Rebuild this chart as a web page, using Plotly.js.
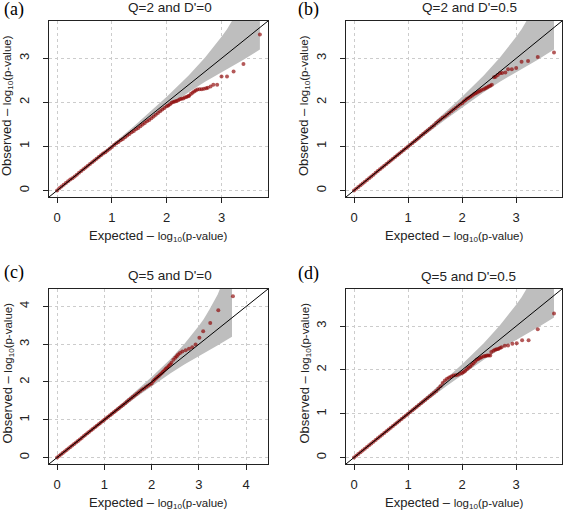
<!DOCTYPE html>
<html>
<head>
<meta charset="utf-8">
<script src="https://cdn.plot.ly/plotly-3.0.1.min.js"></script>
<style>html,body{margin:0;padding:0;background:#fff;}#chart{width:567px;height:514px;}</style>
</head>
<body>
<div id="chart"></div>
<script>
// ---- data ----
const panelTitles = ["Q=2 and D'=0", "Q=2 and D'=0.5", "Q=5 and D'=0", "Q=5 and D'=0.5"];
const panelLabels = ["(a)", "(b)", "(c)", "(d)"];

// dense part of the expected -log10(p) values (shared by all panels)
const denseX = [0.00,0.04,0.08,0.12,0.16,0.20,0.24,0.28,0.32,0.36,0.40,0.44,0.48,0.52,0.56,0.60,0.64,0.68,0.72,0.76,0.80,0.84,0.88,0.92,0.96,1.00,1.04,1.08,1.12,1.16,1.20,1.24,1.28,1.32,1.36,1.40,1.44,1.48,1.52,1.56,1.60,1.64,1.68,1.72,1.76,1.80,1.84,1.88,1.92,1.96,2.00];

const denseY_a = [0.00,0.05,0.09,0.13,0.17,0.21,0.25,0.28,0.32,0.36,0.40,0.44,0.48,0.52,0.56,0.60,0.64,0.68,0.72,0.76,0.80,0.84,0.87,0.91,0.95,0.99,1.03,1.07,1.10,1.14,1.17,1.21,1.25,1.28,1.32,1.35,1.39,1.42,1.46,1.50,1.53,1.57,1.60,1.64,1.68,1.72,1.76,1.80,1.84,1.87,1.91];
const tailX_a = [2.03,2.06,2.09,2.12,2.15,2.18,2.21,2.24,2.27,2.30,2.33,2.36,2.39,2.41,2.44,2.47,2.50,2.53,2.56,2.60,2.64,2.68,2.72,2.75,2.80,2.85,2.92,3.00,3.10,3.22,3.40,3.70];
const tailY_a = [1.93,1.96,1.99,2.01,2.02,2.03,2.05,2.07,2.08,2.09,2.11,2.12,2.14,2.15,2.19,2.22,2.25,2.27,2.29,2.30,2.30,2.31,2.32,2.33,2.36,2.40,2.40,2.59,2.59,2.70,2.87,3.54];

const denseY_b = [0.00,0.04,0.08,0.12,0.16,0.20,0.24,0.28,0.32,0.36,0.40,0.44,0.48,0.52,0.56,0.60,0.64,0.68,0.72,0.76,0.80,0.84,0.88,0.92,0.96,1.00,1.04,1.08,1.12,1.16,1.20,1.24,1.28,1.32,1.36,1.40,1.44,1.48,1.53,1.57,1.61,1.65,1.68,1.72,1.76,1.80,1.84,1.87,1.91,1.95,1.98];
const tailX_b = [2.03,2.06,2.09,2.12,2.15,2.18,2.21,2.24,2.27,2.30,2.33,2.36,2.40,2.43,2.46,2.49,2.52,2.55,2.59,2.62,2.66,2.70,2.74,2.80,2.85,2.92,3.00,3.10,3.22,3.40,3.70];
const tailY_b = [2.02,2.05,2.08,2.10,2.13,2.15,2.18,2.20,2.22,2.24,2.26,2.28,2.30,2.32,2.34,2.36,2.38,2.40,2.57,2.58,2.62,2.66,2.67,2.68,2.75,2.75,2.78,2.92,2.94,3.03,3.13];

const denseY_c = [0.00,0.04,0.08,0.12,0.16,0.20,0.24,0.28,0.32,0.36,0.40,0.44,0.48,0.52,0.56,0.60,0.64,0.68,0.72,0.76,0.80,0.84,0.88,0.92,0.96,1.00,1.04,1.08,1.12,1.16,1.20,1.24,1.28,1.32,1.36,1.40,1.44,1.48,1.52,1.56,1.60,1.64,1.68,1.72,1.76,1.80,1.83,1.87,1.90,1.93,1.96];
const tailX_c = [2.03,2.06,2.09,2.12,2.15,2.18,2.21,2.24,2.27,2.30,2.33,2.36,2.39,2.42,2.46,2.50,2.53,2.56,2.60,2.65,2.72,2.79,2.86,2.93,3.01,3.09,3.24,3.41,3.72];
const tailY_c = [2.02,2.06,2.09,2.13,2.16,2.20,2.23,2.27,2.31,2.35,2.38,2.42,2.46,2.51,2.59,2.64,2.68,2.73,2.77,2.81,2.84,2.88,2.92,2.99,3.17,3.34,3.56,3.90,4.27];

const denseY_d = [0.00,0.04,0.08,0.12,0.16,0.20,0.24,0.28,0.32,0.36,0.40,0.44,0.48,0.52,0.56,0.60,0.64,0.68,0.72,0.76,0.80,0.84,0.88,0.92,0.96,1.00,1.04,1.08,1.12,1.16,1.20,1.24,1.28,1.32,1.36,1.40,1.44,1.48,1.52,1.57,1.63,1.70,1.76,1.80,1.83,1.85,1.87,1.88,1.89,1.91,1.93];
const tailX_d = [2.03,2.06,2.09,2.12,2.15,2.18,2.21,2.24,2.27,2.30,2.33,2.36,2.40,2.43,2.46,2.49,2.52,2.54,2.58,2.61,2.64,2.67,2.70,2.73,2.79,2.85,2.93,3.01,3.11,3.23,3.40,3.70];
const tailY_d = [1.95,1.98,2.02,2.05,2.08,2.12,2.15,2.19,2.23,2.25,2.27,2.29,2.31,2.32,2.33,2.33,2.33,2.41,2.44,2.46,2.47,2.48,2.50,2.52,2.55,2.56,2.60,2.61,2.68,2.68,2.93,3.29];

// 95% confidence band (expected, lower, upper)
const bandX  = [0.00,0.30,0.70,1.00,1.40,1.70,2.00,2.40,2.70,3.00,3.10,3.22,3.40,3.70];
const bandLo = [0.00,0.289,0.676,0.965,1.34,1.62,1.89,2.23,2.47,2.69,2.76,2.84,2.97,3.20];
const bandHi = [0.01,0.313,0.724,1.038,1.46,1.79,2.13,2.61,3.02,3.49,3.66,3.91,4.32,5.30];

const diagEnds = [-1, 6];
const axisMax = [3.7, 3.7, 4.29, 3.7];
const tickVals = [[0,1,2,3],[0,1,2,3],[0,1,2,3,4],[0,1,2,3]];

// ---- build ----
const W = 567, H = 514;
const boxes = [ // left, right, top, bottom (px)
  [49, 268, 21, 197],
  [346, 562, 21, 197],
  [49, 268, 289, 464],
  [346, 562, 289, 464]
];
const denseYs = [denseY_a, denseY_b, denseY_c, denseY_d];
const tailXs = [tailX_a, tailX_b, tailX_c, tailX_d];
const tailYs = [tailY_a, tailY_b, tailY_c, tailY_d];

const traces = [];
const layout = {
  width: W, height: H,
  margin: {l:0, r:0, t:0, b:0},
  paper_bgcolor: '#fff', plot_bgcolor: '#fff',
  showlegend: false,
  font: {family: 'Liberation Sans, Arial, sans-serif', size: 13, color: '#222'},
  annotations: []
};
const titlePos = [[170, 8], [469, 8], [170, 275], [468, 276]];
const labelPos = [[2, 9], [296, 9], [2, 272], [296, 273]];
const ytitleX = [7, 304, 7, 304];

for (let k = 0; k < 4; k++) {
  const sfx = k === 0 ? '' : String(k + 1);
  const lsfx = String(k + 5); // label-only overlay axes
  const xa = 'x' + sfx, ya = 'y' + sfx;
  const xl = 'x' + lsfx, yl = 'y' + lsfx;
  const b = boxes[k];
  const pad = axisMax[k] * 0.04;
  const rng = [-pad, axisMax[k] + pad];
  const xdom = [b[0] / W, b[1] / W];
  const ydom = [1 - b[3] / H, 1 - b[2] / H];
  const axCommon = {
    range: rng, autorange: false,
    showgrid: true, gridcolor: '#cccccc', griddash: 'dot', gridwidth: 1,
    zeroline: false, showline: true, mirror: true, linecolor: '#222', linewidth: 1.3,
    ticks: 'outside', ticklen: 5, tickcolor: '#222', tickwidth: 1,
    tickmode: 'array', tickvals: tickVals[k],
    showticklabels: false,
    fixedrange: true
  };
  layout['xaxis' + sfx] = Object.assign({}, axCommon, {domain: xdom, anchor: ya});
  layout['yaxis' + sfx] = Object.assign({}, axCommon, {domain: ydom, anchor: xa});

  // overlay axes that carry only the tick labels, set further from the box like R does
  const lblCommon = {
    range: rng, autorange: false, showgrid: false, zeroline: false, showline: false,
    ticks: 'outside', tickcolor: 'rgba(0,0,0,0)', tickwidth: 1,
    tickmode: 'array', tickvals: tickVals[k], showticklabels: true,
    tickfont: {size: 13, color: '#222'}, fixedrange: true
  };
  layout['xaxis' + lsfx] = Object.assign({}, lblCommon, {domain: xdom, anchor: ya, overlaying: xa, side: 'bottom', ticklen: 8});
  layout['yaxis' + lsfx] = Object.assign({}, lblCommon, {domain: ydom, anchor: xa, overlaying: ya, side: 'left', ticklen: 14, tickangle: -90});

  // band polygon
  traces.push({
    x: bandX.concat(bandX.slice().reverse()),
    y: bandHi.concat(bandLo.slice().reverse()),
    xaxis: xa, yaxis: ya, type: 'scatter', mode: 'lines',
    fill: 'toself', fillcolor: '#bebebe', line: {width: 0, color: 'rgba(0,0,0,0)'},
    hoverinfo: 'skip'
  });
  // diagonal (drawn on the label axes, which share the same ranges)
  traces.push({
    x: diagEnds, y: diagEnds, xaxis: xl, yaxis: yl, type: 'scatter', mode: 'lines',
    line: {color: '#000', width: 1}, hoverinfo: 'skip'
  });
  // points
  traces.push({
    x: denseX.concat(tailXs[k]), y: denseYs[k].concat(tailYs[k]),
    xaxis: xa, yaxis: ya, type: 'scatter', mode: 'markers',
    marker: {color: 'rgba(140,0,0,0.65)', size: 4, line: {width: 0}},
    cliponaxis: true
  });

  // panel title
  layout.annotations.push({
    text: panelTitles[k], xref: 'paper', yref: 'paper',
    x: titlePos[k][0] / W, y: 1 - titlePos[k][1] / H, xanchor: 'center', yanchor: 'middle',
    showarrow: false, font: {size: 13.5, color: '#222'}
  });
  // panel label
  layout.annotations.push({
    text: panelLabels[k], xref: 'paper', yref: 'paper',
    x: labelPos[k][0] / W, y: 1 - labelPos[k][1] / H, xanchor: 'left', yanchor: 'middle',
    showarrow: false, font: {family: 'Liberation Serif, Times New Roman, serif', size: 18, color: '#000'}
  });
  // x title
  layout.annotations.push({
    text: 'Expected \u2013 <span style="font-size:11.5px">log<sub>10</sub>(p-value)</span>',
    xref: 'paper', yref: 'paper',
    x: ((b[0] + b[1]) / 2) / W, y: 1 - (b[3] + 39) / H, xanchor: 'center', yanchor: 'middle',
    showarrow: false, font: {size: 13, color: '#222'}
  });
  // y title
  layout.annotations.push({
    text: 'Observed \u2013 <span style="font-size:11.5px">log<sub>10</sub>(p-value)</span>',
    xref: 'paper', yref: 'paper', textangle: -90,
    x: ytitleX[k] / W, y: 1 - ((b[2] + b[3]) / 2 - 3) / H, xanchor: 'center', yanchor: 'middle',
    showarrow: false, font: {size: 13, color: '#222'}
  });
}

Plotly.newPlot('chart', traces, layout, {displayModeBar: false, staticPlot: true});
</script>
</body>
</html>
